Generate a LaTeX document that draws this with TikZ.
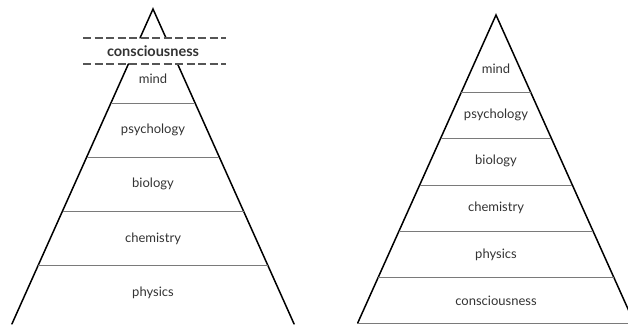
\documentclass[tikz,border=0pt]{standalone}
\usepackage{fontspec}
\setmainfont{Lato}

\definecolor{txtgray}{HTML}{333333}
\definecolor{rulegray}{HTML}{7A7A7A}
\definecolor{dashgray}{HTML}{555555}

\tikzset{
  side/.style={line width=1.5pt, line cap=round},
  layer/.style={rulegray, line width=0.9pt},
  cutline/.style={dashgray, line width=1.4pt, dash pattern=on 8pt off 3.5pt},
  level/.style={text=txtgray, font=\fontsize{13}{15}\selectfont}
}

\begin{document}
\begin{tikzpicture}[x=1pt, y=-1pt]
		\useasboundingbox (0,0) rectangle (628,324);
		% left pyramid, cut by consciousness
		\draw[side] (140.0,38) -- (153,9) -- (166.0,38);
		\draw[side] (128.4,64) -- (11.9,324);
		\draw[side] (177.6,64) -- (294.1,324);
		\foreach \y in {103,157,211,265}
			\draw[layer] ({153-0.448*(\y-9)},\y) -- ({153+0.448*(\y-9)},\y);
		\draw[cutline] (83,38) -- (226,38);
		\draw[cutline] (83,64) -- (226,64);
		\node[level, font=\fontsize{14.5}{16}\selectfont\bfseries] (lcons) at (153,51) {consciousness};
		\node[level] (lmind) at (153,79) {mind};
		\node[level] (lpsy) at (153,130) {psychology};
		\node[level] (lbio) at (153,184) {biology};
		\node[level] (lchem) at (153,239) {chemistry};
		\node[level] (lphys) at (153,293) {physics};
		% right pyramid, consciousness at the base
		\begin{scope}
			\clip (314,0) rectangle (628,324);
			\draw[side] (357.7,323) -- (496,15) -- (634.3,323);
			\draw[layer] (357.7,323) -- (634.3,323);
			\foreach \y in {92,138,185,231,277}
				\draw[layer] ({496-0.449*(\y-15)},\y) -- ({496+0.449*(\y-15)},\y);
		\end{scope}
		\node[level] (rmind) at (496,69) {mind};
		\node[level] (rpsy) at (496,115) {psychology};
		\node[level] (rbio) at (496,161) {biology};
		\node[level] (rchem) at (496,208) {chemistry};
		\node[level] (rphys) at (496,255) {physics};
		\node[level] (rcons) at (496,301) {consciousness};
\end{tikzpicture}
\end{document}
